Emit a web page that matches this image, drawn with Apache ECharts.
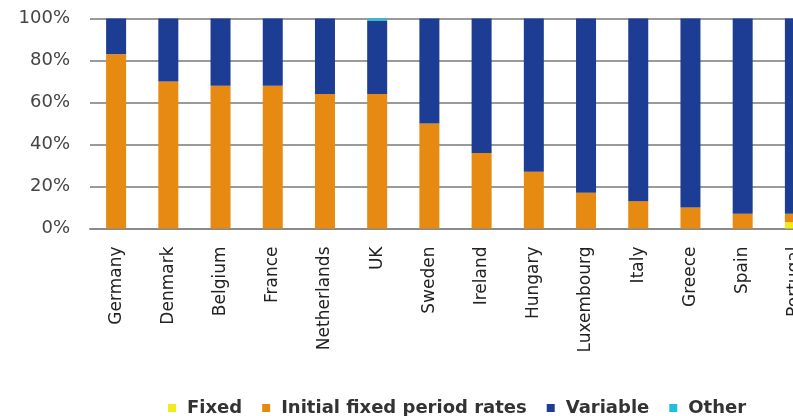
<!DOCTYPE html>
<html>
<head>
<meta charset="utf-8">
<script src="https://cdn.jsdelivr.net/npm/echarts@6/dist/echarts.min.js"></script>
<style>
  html, body { margin: 0; padding: 0; background: #fff; }
  #chart { width: 793px; height: 416px; }
</style>
</head>
<body>
<div id="chart"></div>
<script>
// countries, ordered by share of fixed-type rates
var countries = ['Germany', 'Denmark', 'Belgium', 'France', 'Netherlands', 'UK', 'Sweden',
  'Ireland', 'Hungary', 'Luxembourg', 'Italy', 'Greece', 'Spain', 'Portugal'];

// shares in %
var fixedData    = [0, 0, 0, 0, 0, 0, 0, 0, 0, 0, 0, 0, 0, 3];
var initialData  = [83, 70, 68, 68, 64, 64, 50, 36, 27, 17, 13, 10, 7, 4];
var variableData = [17, 30, 32, 32, 36, 35, 50, 64, 73, 83, 87, 90, 93, 93];
var otherData    = [0, 0, 0, 0, 0, 1, 0, 0, 0, 0, 0, 0, 0, 0];

var yTicks = [0, 20, 40, 60, 80, 100];

var chart = echarts.init(document.getElementById('chart'), null, { renderer: 'canvas' });

function barSeries(name, data, color) {
  return {
    name: name,
    type: 'bar',
    stack: 'total',
    barWidth: 20,
    data: data,
    itemStyle: { color: color },
    emphasis: { disabled: true }
  };
}

chart.setOption({
  animation: false,
  backgroundColor: '#ffffff',
  grid: {
    left: 90,
    right: -28,
    top: 18.5,
    bottom: 187.5,
    containLabel: false,
    outerBoundsMode: 'none'
  },
  legend: {
    left: 168,
    top: 399,
    padding: 0,
    itemWidth: 8,
    itemHeight: 8,
    itemGap: 20,
    icon: 'rect',
    textStyle: {
      fontFamily: 'DejaVu Sans',
      fontSize: 18,
      fontWeight: 'bold',
      color: '#333',
      padding: [0, 0, 0, 6]
    },
    data: ['Fixed', 'Initial fixed period rates', 'Variable', 'Other']
  },
  xAxis: {
    type: 'category',
    data: countries,
    axisLine: { lineStyle: { color: '#8a8a8a', width: 2 } },
    axisTick: { alignWithLabel: false, length: 5, lineStyle: { color: '#8a8a8a' } },
    axisLabel: {
      rotate: 90,
      interval: 0,
      margin: 18,
      fontFamily: 'DejaVu Sans',
      fontSize: 17,
      color: '#222'
    }
  },
  yAxis: {
    type: 'value',
    min: yTicks[0],
    max: yTicks[yTicks.length - 1],
    interval: 20,
    axisLine: { show: false },
    axisTick: { show: false },
    splitLine: { lineStyle: { color: '#9a9a9a', width: 2 } },
    axisLabel: {
      margin: 20,
      fontFamily: 'DejaVu Sans',
      fontSize: 18,
      color: '#444',
      formatter: '{value}%'
    }
  },
  series: [
    barSeries('Fixed', fixedData, '#f2ea1c'),
    barSeries('Initial fixed period rates', initialData, '#e68a12'),
    barSeries('Variable', variableData, '#1d3d94'),
    barSeries('Other', otherData, '#22bfdc')
  ]
});
</script>
</body>
</html>
